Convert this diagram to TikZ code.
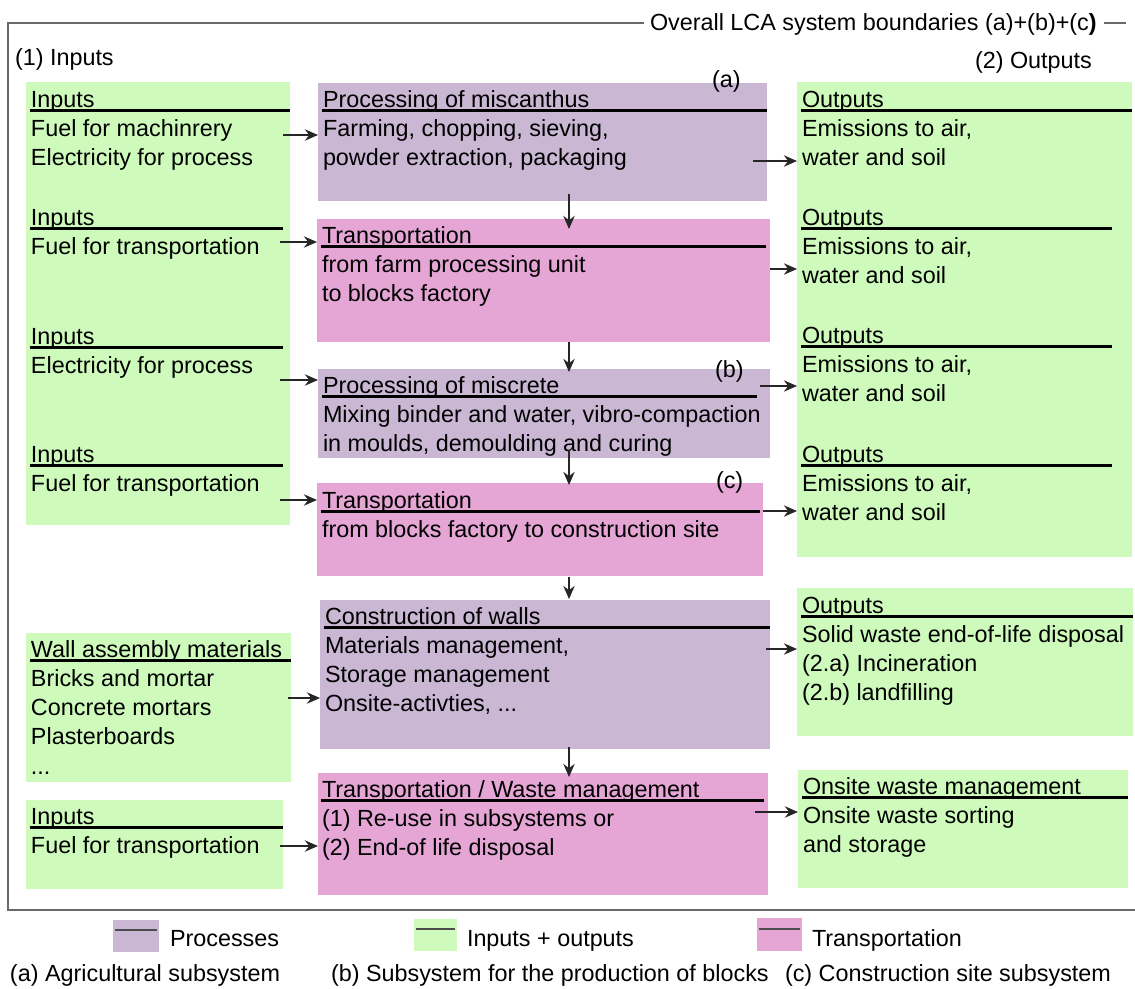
\documentclass[tikz,border=0pt]{standalone}
\usepackage{fontspec}
\setmainfont{Liberation Sans}
\usetikzlibrary{arrows.meta,fit}
\definecolor{proc}{RGB}{201,183,212}
\definecolor{trans}{RGB}{229,166,213}
\definecolor{inout}{RGB}{206,251,188}
\definecolor{framec}{RGB}{105,105,105}
\newcommand\myfs{\fontsize{13.3pt}{16pt}\selectfont}
\newcommand\mydots{...}
\newcommand\mybox[6]{\node[boxst, fill=#2, fit={(#3,#4)(#5,#6)}] (#1) {};}
\newcommand\myblk[6]{%
  \node[txt] (#1h) at (#2,#3) {#4};
  \draw[ul] (#2-1,#3+3.5) -- (#5,#3+3.5);
  \foreach \t [count=\i] in {#6} {\node[txt] (#1l\i) at (#2,#3+29.3*\i) {\t};}
}
\tikzset{
  boxst/.style={rectangle, inner sep=0pt, outer sep=0pt, draw=none},
  txt/.style={anchor=base west, inner sep=0pt, outer sep=0pt, font=\myfs},
  ul/.style={draw=black, line width=1.4pt},
  arr/.style={draw=black!85, line width=0.7pt, -{Stealth[length=7.5pt,width=6.5pt,inset=2.5pt]}},
  framest/.style={draw=framec, line width=0.9pt},
  legline/.style={draw=black!70, line width=0.8pt}
}
\begin{document}
\begin{tikzpicture}[x=0.02cm, y=-0.02cm]
\useasboundingbox (0,0) rectangle (1135,988);
% frame
\node[txt] (title) at (650,30) {Overall LCA system boundaries (a)+(b)+(c{\bfseries )}};
\draw[framest] (644,23) -- (8,23) -- (8,910) -- (1135,910);
\draw[framest] (1104,23) -- (1126,23);
\node[txt] (inlab) at (15,65) {(1) Inputs};
\node[txt] (outlab) at (975,68) {(2) Outputs};
% left column
\mybox{L1}{inout}{26}{82}{290}{525}
\myblk{L1a}{31}{107}{Inputs}{290}{Fuel for machinrery, Electricity for process}
\myblk{L1b}{31}{225}{Inputs}{283}{Fuel for transportation}
\myblk{L1c}{31}{344}{Inputs}{283}{Electricity for process}
\myblk{L1d}{31}{462}{Inputs}{283}{Fuel for transportation}
\mybox{L2}{inout}{26}{633}{291}{782}
\myblk{L2a}{31}{657}{Wall assembly materials}{291}{Bricks and mortar, Concrete mortars, Plasterboards, \mydots}
\mybox{L3}{inout}{26}{800}{283}{889}
\myblk{L3a}{31}{824}{Inputs}{283}{Fuel for transportation}
% middle column
\mybox{M1}{proc}{318}{83}{767}{201}
\myblk{M1a}{323}{107}{Processing of miscanthus}{767}{{Farming, chopping, sieving,},{powder extraction, packaging}}
\node[txt] (la) at (712,87) {(a)};
\mybox{M2}{trans}{317}{219}{770}{342}
\myblk{M2a}{322}{243}{Transportation}{766}{from farm processing unit, to blocks factory}
\mybox{M3}{proc}{318}{369}{770}{458}
\myblk{M3a}{323}{393}{Processing of miscrete}{757}{{Mixing binder and water, vibro-compaction},{in moulds, demoulding and curing}}
\node[txt] (lb) at (715,377) {(b)};
\mybox{M4}{trans}{317}{483}{763}{576}
\myblk{M4a}{322}{508}{Transportation}{760}{from blocks factory to construction site}
\node[txt] (lc) at (716,488) {(c)};
\mybox{M5}{proc}{320}{600}{770}{749}
\myblk{M5a}{325}{624}{Construction of walls}{770}{{Materials management,}, Storage management, {Onsite-activties, \mydots}}
\mybox{M6}{trans}{318}{773}{768}{895}
\myblk{M6a}{322}{797}{Transportation / Waste management}{764}{(1) Re-use in subsystems or, (2) End-of life disposal}
% right column
\mybox{R1}{inout}{797}{82}{1132}{557}
\myblk{R1a}{802}{107}{Outputs}{1132}{{Emissions to air,}, water and soil}
\myblk{R1b}{802}{225}{Outputs}{1112}{{Emissions to air,}, water and soil}
\myblk{R1c}{802}{343}{Outputs}{1112}{{Emissions to air,}, water and soil}
\myblk{R1d}{802}{462}{Outputs}{1112}{{Emissions to air,}, water and soil}
\mybox{R2}{inout}{797}{588}{1133}{736}
\myblk{R2a}{802}{613}{Outputs}{1133}{Solid waste end-of-life disposal, (2.a) Incineration, (2.b) landfilling}
\mybox{R3}{inout}{798}{770}{1128}{888}
\myblk{R3a}{803}{794}{Onsite waste management}{1128}{Onsite waste sorting, and storage}
% arrows left -> middle
\coordinate (a1) at (283,135);
\coordinate (a2) at (280,242);
\coordinate (a3) at (280,380);
\coordinate (a4) at (280,500);
\coordinate (a5) at (288,698);
\coordinate (a6) at (280,846);
\draw[arr] (a1) -- (a1 -| M1.west);
\draw[arr] (a2) -- (a2 -| M2.west);
\draw[arr] (a3) -- (a3 -| M3.west);
\draw[arr] (a4) -- (a4 -| M4.west);
\draw[arr] (a5) -- (a5 -| M5.west);
\draw[arr] (a6) -- (a6 -| M6.west);
% arrows middle -> right
\coordinate (b1) at (753,161);
\coordinate (b2) at (770,269);
\coordinate (b3) at (760,386);
\coordinate (b4) at (763,511);
\coordinate (b5) at (766,649);
\coordinate (b6) at (755,812);
\draw[arr] (b1) -- (b1 -| R1.west);
\draw[arr] (b2) -- (b2 -| R1.west);
\draw[arr] (b3) -- (b3 -| R1.west);
\draw[arr] (b4) -- (b4 -| R1.west);
\draw[arr] (b5) -- (b5 -| R2.west);
\draw[arr] (b6) -- (b6 -| R3.west);
% vertical arrows
\coordinate (v1s) at (569,194); \coordinate (v1e) at (569,229);
\coordinate (v2s) at (569,342); \coordinate (v2e) at (569,372);
\coordinate (v3s) at (569,450); \coordinate (v3e) at (569,485);
\coordinate (v4s) at (569,577); \coordinate (v4e) at (569,599);
\coordinate (v5s) at (569,747); \coordinate (v5e) at (569,777);
\draw[arr] (v1s) -- (v1e);
\draw[arr] (v2s) -- (v2e);
\draw[arr] (v3s) -- (v3e);
\draw[arr] (v4s) -- (v4e);
\draw[arr] (v5s) -- (v5e);
% legend
\node[boxst, fill=proc, fit={(113,920)(159,952)}] (lg1) {};
\draw[legline] (115,930) -- (157,930);
\node[txt] (lg1t) at (170,946) {Processes};
\node[boxst, fill=inout, fit={(414,919)(457,951)}] (lg2) {};
\draw[legline] (416,929) -- (455,929);
\node[txt] (lg2t) at (467,946) {Inputs + outputs};
\node[boxst, fill=trans, fit={(757,918)(802,951)}] (lg3) {};
\draw[legline] (759,929) -- (800,929);
\node[txt] (lg3t) at (812,946) {Transportation};
\node[txt] (sa) at (10,981) {(a) Agricultural subsystem};
\node[txt] (sb) at (331,981) {(b) Subsystem for the production of blocks};
\node[txt] (sc) at (785,981) {(c) Construction site subsystem};
\end{tikzpicture}
\end{document}
